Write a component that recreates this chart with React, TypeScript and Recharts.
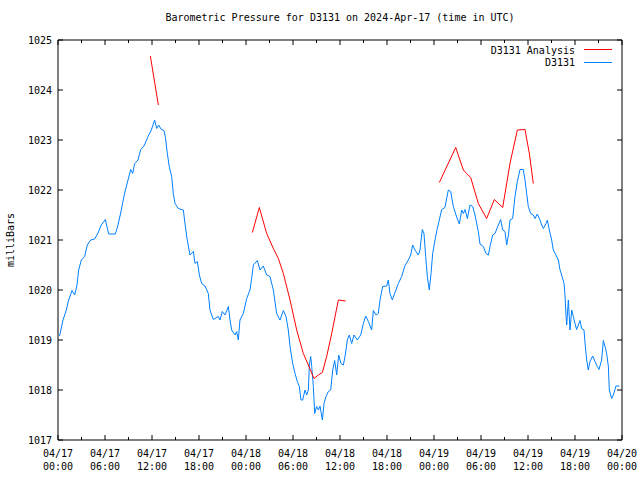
import React from 'react'
import { LineChart, Line, XAxis, YAxis } from 'recharts'

const FONT = '"DejaVu Sans Mono", "Liberation Mono", monospace'

// station readings, hours since 2024-04-17 00:00 UTC
const stationHours = [
  0.2, 0.64, 1.06, 1.36, 1.79, 2.13, 2.43, 2.64, 2.98, 3.4, 3.74, 4.17, 4.68, 5.1, 5.53, 6.04,
  6.47, 7.32, 7.66, 8.0, 8.51, 8.94, 9.28, 9.53, 9.79, 10.21, 10.56, 10.98, 11.49, 11.91, 12.34,
  12.6, 12.85, 13.19, 13.53, 13.7, 13.96, 14.2, 14.51, 14.72, 14.94, 15.36, 16.0, 16.21, 16.5,
  16.85, 17.28, 17.49, 17.79, 18.05, 18.34, 18.77, 19.19, 19.4, 19.83, 20.47, 20.68, 20.98,
  21.32, 21.75, 21.96, 22.17, 22.6, 22.81, 23.02, 23.23, 23.66, 24.09, 24.51, 24.72, 24.94,
  25.45, 25.79, 26.21, 26.64, 27.06, 27.49, 27.91, 28.34, 28.77, 29.11, 29.4, 29.62, 29.96,
  30.26, 30.55, 30.81, 31.02, 31.24, 31.53, 31.75, 31.96, 32.09, 32.26, 32.39, 32.6, 32.77,
  33.02, 33.24, 33.45, 33.75, 33.96, 34.21, 34.51, 34.81, 35.07, 35.32, 35.58, 35.83, 36.13,
  36.43, 36.64, 36.94, 37.19, 37.49, 37.79, 38.21, 38.64, 38.98, 39.28, 39.62, 40.04, 40.26,
  40.6, 40.89, 41.11, 41.45, 41.96, 42.17, 42.38, 42.68, 43.02, 43.45, 43.87, 44.3, 44.72,
  45.02, 45.28, 45.57, 46.0, 46.21, 46.51, 46.72, 46.94, 47.15, 47.4, 47.62, 47.83, 48.13,
  48.42, 48.68, 48.98, 49.4, 49.83, 50.13, 50.47, 50.81, 51.23, 51.54, 51.75, 51.96, 52.26,
  52.6, 52.94, 53.23, 53.66, 53.87, 54.3, 54.64, 54.94, 55.15, 55.49, 55.79, 56.21, 56.51,
  56.77, 57.06, 57.28, 57.53, 57.7, 58.04, 58.34, 58.64, 58.98, 59.4, 59.62, 59.83, 60.04,
  60.34, 60.68, 60.9, 61.19, 61.45, 61.75, 61.96, 62.3, 62.47, 62.72, 63.02, 63.23, 63.57,
  63.87, 64.09, 64.3, 64.6, 64.72, 64.85, 64.94, 65.15, 65.36, 65.58, 65.79, 66.0, 66.21,
  66.43, 66.64, 66.85, 67.15, 67.32, 67.49, 67.7, 67.91, 68.26, 68.55, 68.85, 69.06, 69.4,
  69.62, 69.83, 70.04, 70.26, 70.38, 70.68, 70.89, 71.23, 71.66,
]
const stationPressure = [
  1019.08, 1019.4, 1019.6, 1019.8, 1019.99, 1019.9, 1020.1, 1020.4, 1020.6, 1020.67, 1020.9,
  1021.0, 1021.02, 1021.14, 1021.3, 1021.41, 1021.12, 1021.12, 1021.3, 1021.54, 1021.94, 1022.2,
  1022.41, 1022.33, 1022.53, 1022.6, 1022.81, 1022.88, 1023.07, 1023.2, 1023.4, 1023.23, 1023.3,
  1023.21, 1023.19, 1023.07, 1022.73, 1022.47, 1022.27, 1021.93, 1021.73, 1021.63, 1021.6,
  1021.33, 1021.0, 1020.7, 1020.77, 1020.53, 1020.57, 1020.3, 1020.13, 1020.08, 1019.93, 1019.6,
  1019.41, 1019.47, 1019.4, 1019.57, 1019.5, 1019.67, 1019.4, 1019.2, 1019.1, 1019.17, 1019.0,
  1019.4, 1019.53, 1019.83, 1020.0, 1020.23, 1020.5, 1020.59, 1020.4, 1020.48, 1020.3, 1020.27,
  1020.0, 1019.53, 1019.4, 1019.59, 1019.47, 1019.2, 1018.87, 1018.53, 1018.33, 1018.17,
  1018.07, 1017.8, 1017.8, 1018.0, 1017.9, 1018.0, 1018.5, 1018.67, 1018.47, 1018.07, 1017.53,
  1017.67, 1017.6, 1017.68, 1017.4, 1017.73, 1017.87, 1017.97, 1018.0, 1018.4, 1018.59, 1018.3,
  1018.7, 1018.53, 1018.5, 1018.67, 1019.0, 1019.1, 1018.93, 1019.1, 1019.0, 1019.1, 1019.33,
  1019.48, 1019.37, 1019.2, 1019.59, 1019.5, 1019.53, 1019.8, 1020.07, 1020.08, 1020.2, 1019.93,
  1019.8, 1019.95, 1020.13, 1020.27, 1020.49, 1020.6, 1020.7, 1020.9, 1020.8, 1020.7, 1020.8,
  1021.21, 1021.13, 1020.67, 1020.27, 1020.0, 1020.33, 1020.73, 1021.0, 1021.23, 1021.4,
  1021.61, 1021.65, 1022.0, 1021.97, 1021.67, 1021.5, 1021.32, 1021.6, 1021.53, 1021.61,
  1021.43, 1021.7, 1021.67, 1021.5, 1021.17, 1020.92, 1020.87, 1020.73, 1020.7, 1020.87,
  1021.1, 1021.13, 1021.3, 1021.41, 1021.2, 1021.17, 1020.9, 1021.13, 1021.4, 1021.43, 1021.87,
  1022.17, 1022.41, 1022.41, 1022.2, 1021.93, 1021.67, 1021.53, 1021.5, 1021.43, 1021.52,
  1021.43, 1021.3, 1021.23, 1021.33, 1021.4, 1021.2, 1021.0, 1020.8, 1020.7, 1020.6, 1020.4,
  1020.3, 1020.13, 1019.9, 1019.5, 1019.3, 1019.8, 1019.2, 1019.6, 1019.47, 1019.33, 1019.21,
  1019.3, 1019.39, 1019.23, 1019.2, 1018.87, 1018.6, 1018.4, 1018.57, 1018.68, 1018.57,
  1018.47, 1018.41, 1018.6, 1018.99, 1018.87, 1018.73, 1018.47, 1018.0, 1017.83, 1017.9,
  1018.08, 1018.08,
]

// analysis runs, null = gap between runs
const analysisHours = [
  11.79, 12.81,
  18,
  24.81, 25.7, 26.64, 27.49, 28.13, 28.77, 29.62, 30.47, 31.32, 31.96, 32.68, 33.24, 33.75,
  34.3, 34.94, 35.79, 36.72,
  42,
  48.68, 50.77, 51.75, 52.17, 52.68, 53.66, 54.72, 55.7, 56.77, 57.7, 58.64, 59.62, 60.17, 60.68,
]
const analysisPressure = [
  1024.68, 1023.7,
  null,
  1021.15, 1021.65, 1021.13, 1020.83, 1020.63, 1020.33, 1019.8, 1019.2, 1018.73, 1018.5,
  1018.23, 1018.3, 1018.35, 1018.67, 1019.13, 1019.8, 1019.78,
  null,
  1022.15, 1022.85, 1022.4, 1022.33, 1022.25, 1021.73, 1021.43, 1021.81, 1021.65, 1022.53,
  1023.2, 1023.21, 1022.73, 1022.13,
]

const xTicks = [0, 3, 6, 9, 12, 15, 18, 21, 24, 27, 30, 33, 36, 39, 42, 45, 48, 51, 54, 57, 60, 63, 66, 69, 72]
const dateLabels = ['04/17', '04/17', '04/17', '04/17', '04/18', '04/18', '04/18', '04/18', '04/19', '04/19', '04/19', '04/19', '04/20']
const timeLabels = ['00:00', '06:00', '12:00', '18:00', '00:00', '06:00', '12:00', '18:00', '00:00', '06:00', '12:00', '18:00', '00:00']
const yTicks = [1017, 1018, 1019, 1020, 1021, 1022, 1023, 1024, 1025]

const RED = '#ff0000'
const BLUE = '#0080ff'

const legendItems = [
  { name: 'D3131 Analysis', color: RED },
  { name: 'D3131', color: BLUE },
]

const observed = stationHours.map((h, i) => ({ h, p: stationPressure[i] }))
const analysis = analysisHours.map((h, i) => ({ h, p: analysisPressure[i] }))

const txt = { fontSize: 10, fontFamily: FONT, fill: '#000' }

const BottomTick = ({ x, y, payload }: any) => {
  const v = payload.value
  const major = v % 6 === 0
  return (
    <g>
      <line x1={x} x2={x} y1={y} y2={y - (major ? 5 : 3)} stroke="#000" />
      {major && (
        <text x={x} y={y + 17} textAnchor="middle" {...txt}>{dateLabels[v / 6]}</text>
      )}
      {major && (
        <text x={x} y={y + 30} textAnchor="middle" {...txt}>{timeLabels[v / 6]}</text>
      )}
    </g>
  )
}

const TopTick = ({ x, y, payload }: any) => {
  const major = payload.value % 6 === 0
  return <line x1={x} x2={x} y1={y} y2={y + (major ? 5 : 3)} stroke="#000" />
}

const LeftTick = ({ x, y, payload }: any) => (
  <g>
    <line x1={x} x2={x + 5} y1={y} y2={y} stroke="#000" />
    <text x={x - 6} y={y + 4} textAnchor="end" {...txt}>{payload.value}</text>
  </g>
)

const RightTick = ({ x, y }: any) => <line x1={x} x2={x - 5} y1={y} y2={y} stroke="#000" />

export default function App() {
  return (
    <div style={{ position: 'absolute', left: 0, top: 0, width: 640, height: 480, background: '#fff', fontFamily: FONT }}>
      <div style={{ position: 'absolute', left: 40, width: 600, top: 12, textAlign: 'center', fontSize: 10 }}>
        Barometric Pressure for D3131 on 2024-Apr-17 (time in UTC)
      </div>
      <div
        style={{
          position: 'absolute', left: 10, top: 240, fontSize: 10, whiteSpace: 'nowrap',
          transform: 'translate(-50%, -50%) rotate(-90deg)',
        }}
      >
        milliBars
      </div>
      <LineChart width={640} height={480} margin={{ top: 0, right: 0, bottom: 0, left: 0 }}>
        <XAxis
          dataKey="h" type="number" domain={[0, 72]} ticks={xTicks} interval={0}
          height={40} tickSize={0} tickMargin={0} axisLine={{ stroke: '#000' }} tickLine={false}
          tick={BottomTick} allowDataOverflow
        />
        <XAxis
          xAxisId="top" orientation="top" dataKey="h" type="number" domain={[0, 72]} ticks={xTicks}
          interval={0} height={40} tickSize={0} tickMargin={0} axisLine={{ stroke: '#000' }}
          tickLine={false} tick={TopTick} allowDataOverflow
        />
        <YAxis
          type="number" domain={[1017, 1025]} ticks={yTicks} interval={0} width={58}
          tickSize={0} tickMargin={0} axisLine={{ stroke: '#000' }} tickLine={false}
          tick={LeftTick} allowDataOverflow
        />
        <YAxis
          yAxisId="right" orientation="right" type="number" domain={[1017, 1025]} ticks={yTicks}
          interval={0} width={18} tickSize={0} tickMargin={0} axisLine={{ stroke: '#000' }}
          tickLine={false} tick={RightTick} allowDataOverflow
        />
        <Line
          data={observed} dataKey="p" type="linear" stroke={BLUE} strokeWidth={1}
          dot={false} isAnimationActive={false}
        />
        <Line
          data={analysis} dataKey="p" type="linear" stroke={RED} strokeWidth={1}
          dot={false} isAnimationActive={false} connectNulls={false}
        />
      </LineChart>
      <svg
        width={200} height={40}
        style={{ position: 'absolute', left: 415, top: 40, overflow: 'visible' }}
      >
        {legendItems.map((item, i) => (
          <g key={item.name}>
            <text x={160} y={14 + i * 12} textAnchor="end" {...txt}>{item.name}</text>
            <rect x={169} y={9 + i * 13} width={28} height={1} fill={item.color} />
          </g>
        ))}
      </svg>
    </div>
  )
}
